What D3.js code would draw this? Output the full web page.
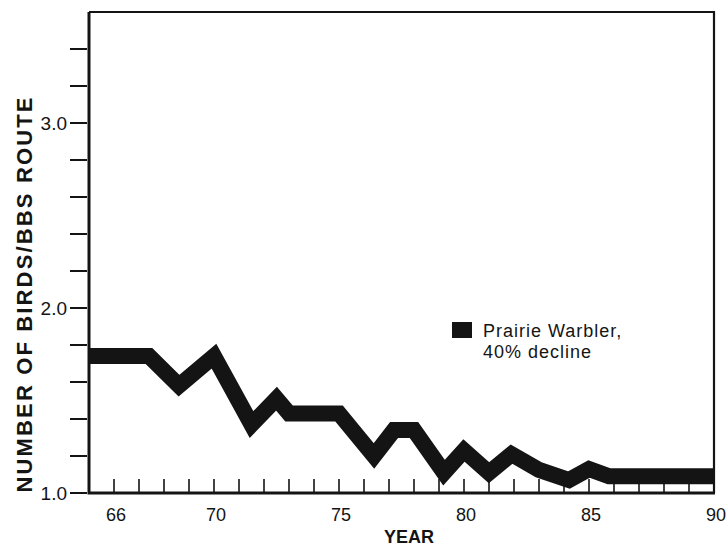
<!DOCTYPE html>
<html>
<head>
<meta charset="utf-8">
<script src="https://cdn.jsdelivr.net/npm/d3@7"></script>
<style>
  body { margin: 0; background: #fff; }
  svg { display: block; font-family: "Liberation Sans", Arial, Helvetica, sans-serif; }
</style>
</head>
<body>
<svg id="chart" width="728" height="546"></svg>
<script>
// values (vertices of the trend band)
const years = [65, 67.4, 68.6, 70, 71.5, 72.5, 73, 75, 76.4, 77.2, 78, 79.2, 80, 81, 81.9, 83, 84.2, 85, 85.8, 90]
const birds = [1.74, 1.74, 1.58, 1.74, 1.37, 1.51, 1.43, 1.43, 1.20, 1.34, 1.34, 1.11, 1.23, 1.11, 1.21, 1.125, 1.07, 1.13, 1.09, 1.09]
const yearTicks = d3.range(66, 90)
const yearLabels = [66, 70, 75, 80, 85, 90]
const countTicks = d3.range(0, 13).map(i => 1 + i * 0.2)
const countLabels = [1.0, 2.0, 3.0]
const legendText = ["Prairie Warbler,", "40% decline"]

const width = 728
const height = 546
const margin = { left: 89, right: 14, top: 12, bottom: 53 }
const ink = "#141414"

const svg = d3.select("#chart")

const x = d3.scaleLinear().domain([65, 90]).range([margin.left, width - margin.right])
const y = d3.scaleLinear().domain([1, 3.6]).range([height - margin.bottom, margin.top])

svg.append("defs").append("clipPath")
  .attr("id", "plotClip")
  .append("rect")
  .attr("x", x(65))
  .attr("y", y(3.6))
  .attr("width", x(90) - x(65))
  .attr("height", y(1) - y(3.6))

// the band
const points = years.map((d, i) => [d, birds[i]])
svg.append("path")
  .datum(points)
  .attr("clip-path", "url(#plotClip)")
  .attr("fill", "none")
  .attr("stroke", ink)
  .attr("stroke-width", 16)
  .attr("stroke-linejoin", "miter")
  .attr("stroke-miterlimit", 3)
  .attr("d", d3.line().x(d => x(d[0])).y(d => y(d[1])))

// x ticks point up inside the plot
svg.append("g")
  .selectAll("line")
  .data(yearTicks)
  .join("line")
  .attr("x1", d => x(d)).attr("x2", d => x(d))
  .attr("y1", y(1)).attr("y2", y(1) - 14)
  .attr("stroke", ink)
  .attr("stroke-width", 1.6)

svg.append("g")
  .selectAll("text")
  .data(yearLabels)
  .join("text")
  .attr("x", d => x(d) + 2)
  .attr("y", 521)
  .attr("text-anchor", "middle")
  .attr("font-size", 18)
  .attr("fill", ink)
  .text(d => d)

// y ticks point out to the left
svg.append("g")
  .selectAll("line")
  .data(countTicks)
  .join("line")
  .attr("x1", margin.left - 19).attr("x2", margin.left - 2)
  .attr("y1", d => y(d)).attr("y2", d => y(d))
  .attr("stroke", ink)
  .attr("stroke-width", 2)

svg.append("g")
  .selectAll("text")
  .data(countLabels)
  .join("text")
  .attr("x", 67)
  .attr("y", d => y(d))
  .attr("dy", "0.36em")
  .attr("text-anchor", "end")
  .attr("font-size", 19)
  .attr("fill", ink)
  .text(d => d.toFixed(1))

// frame
svg.append("path")
  .attr("d", `M${x(65)},${y(3.6)} H${x(90)} V${y(1)}`)
  .attr("fill", "none")
  .attr("stroke", ink)
  .attr("stroke-width", 2.2)
svg.append("path")
  .attr("d", `M${x(65)},${y(3.6)} V${y(1)} H${x(90) + 1}`)
  .attr("fill", "none")
  .attr("stroke", ink)
  .attr("stroke-width", 3)

// axis titles
svg.append("text")
  .attr("x", 409)
  .attr("y", 543)
  .attr("text-anchor", "middle")
  .attr("font-size", 18)
  .attr("font-weight", "bold")
  .attr("fill", ink)
  .text("YEAR")

svg.append("text")
  .attr("transform", "translate(32,295) rotate(-90)")
  .attr("text-anchor", "middle")
  .attr("font-size", 22)
  .attr("font-weight", "bold")
  .attr("textLength", 395)
  .attr("lengthAdjust", "spacing")
  .attr("fill", ink)
  .text("NUMBER OF BIRDS/BBS ROUTE")

// legend
svg.append("rect")
  .attr("x", 452).attr("y", 322)
  .attr("width", 20).attr("height", 16)
  .attr("fill", ink)

svg.append("g")
  .selectAll("text")
  .data(legendText)
  .join("text")
  .attr("x", 483)
  .attr("y", (d, i) => 337 + i * 21)
  .attr("font-size", 18)
  .attr("letter-spacing", 1)
  .attr("fill", ink)
  .text(d => d)
</script>
</body>
</html>
